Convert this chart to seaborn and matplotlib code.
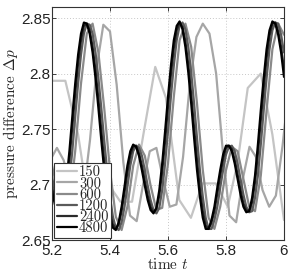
import numpy as np
import pandas as pd
import matplotlib
matplotlib.use("Agg")
import matplotlib.pyplot as plt
import seaborn as sns

# ---------------- data ----------------
resolutions = ["150", "300", "600", "1200", "2400", "4800"]
colors = ["#c4c4c4", "#a6a6a6", "#8a8a8a", "#5a5a5a", "#2a2a2a", "#000000"]

t_fine = np.linspace(5.2, 6.0, 81)
p4800 = [2.694, 2.682, 2.675, 2.675, 2.685, 2.704, 2.730, 2.761, 2.791, 2.817,
         2.836, 2.846, 2.845, 2.836, 2.819, 2.796, 2.769, 2.740, 2.713, 2.689,
         2.671, 2.661, 2.659, 2.666, 2.680, 2.698, 2.717, 2.730, 2.736, 2.734,
         2.726, 2.713, 2.699, 2.686, 2.677, 2.674, 2.679, 2.695, 2.719, 2.748,
         2.779, 2.807, 2.830, 2.843, 2.847, 2.840, 2.824, 2.801, 2.773, 2.742,
         2.713, 2.689, 2.670, 2.660, 2.660, 2.668, 2.680, 2.697, 2.713, 2.727,
         2.735, 2.735, 2.730, 2.719, 2.705, 2.691, 2.680, 2.675, 2.676, 2.688,
         2.708, 2.736, 2.767, 2.796, 2.822, 2.839, 2.847, 2.845, 2.835, 2.819,
         2.797]
p2400 = [2.698, 2.686, 2.677, 2.675, 2.682, 2.698, 2.722, 2.752, 2.782, 2.809,
         2.830, 2.843, 2.845, 2.839, 2.824, 2.803, 2.777, 2.749, 2.721, 2.696,
         2.676, 2.664, 2.660, 2.664, 2.676, 2.693, 2.711, 2.726, 2.734, 2.735,
         2.728, 2.717, 2.703, 2.690, 2.680, 2.675, 2.678, 2.690, 2.712, 2.739,
         2.770, 2.799, 2.823, 2.839, 2.846, 2.842, 2.829, 2.808, 2.781, 2.751,
         2.722, 2.696, 2.676, 2.663, 2.660, 2.666, 2.676, 2.692, 2.708, 2.723,
         2.733, 2.735, 2.732, 2.722, 2.709, 2.695, 2.683, 2.677, 2.676, 2.684,
         2.702, 2.728, 2.758, 2.787, 2.814, 2.834, 2.845, 2.846, 2.838, 2.824,
         2.804]
p1200 = [2.707, 2.694, 2.682, 2.675, 2.675, 2.685, 2.704, 2.730, 2.761, 2.791,
         2.817, 2.836, 2.845, 2.844, 2.836, 2.819, 2.796, 2.769, 2.740, 2.713,
         2.689, 2.671, 2.661, 2.659, 2.666, 2.680, 2.698, 2.717, 2.730, 2.735,
         2.733, 2.726, 2.713, 2.699, 2.686, 2.677, 2.674, 2.679, 2.695, 2.719,
         2.748, 2.779, 2.807, 2.830, 2.843, 2.846, 2.840, 2.824, 2.801, 2.773,
         2.742, 2.713, 2.689, 2.670, 2.660, 2.660, 2.668, 2.680, 2.697, 2.713,
         2.727, 2.734, 2.735, 2.730, 2.719, 2.705, 2.691, 2.680, 2.675, 2.676,
         2.688, 2.708, 2.736, 2.767, 2.796, 2.822, 2.839, 2.846, 2.845, 2.835,
         2.819]

t600 = np.linspace(5.2, 6.0, 41)
p600 = [2.717, 2.694, 2.675, 2.685, 2.730, 2.791, 2.836, 2.845, 2.819, 2.769,
        2.713, 2.671, 2.659, 2.680, 2.717, 2.736, 2.726, 2.699, 2.677, 2.679,
        2.719, 2.779, 2.830, 2.845, 2.824, 2.773, 2.713, 2.670, 2.660, 2.680,
        2.713, 2.734, 2.730, 2.705, 2.680, 2.676, 2.708, 2.767, 2.822, 2.845,
        2.835]

t300 = [5.194, 5.217, 5.240, 5.263, 5.286, 5.308, 5.331, 5.354, 5.377, 5.400,
        5.423, 5.446, 5.469, 5.492, 5.514, 5.537, 5.560, 5.583, 5.606, 5.629,
        5.652, 5.675, 5.698, 5.720, 5.743, 5.766, 5.789, 5.812, 5.835, 5.858,
        5.881, 5.903, 5.926, 5.949, 5.972, 5.995, 6.018]
p300 = [2.722, 2.733, 2.722, 2.700, 2.680, 2.690, 2.740, 2.805, 2.844, 2.838,
        2.790, 2.720, 2.672, 2.667, 2.700, 2.730, 2.733, 2.705, 2.680, 2.682,
        2.725, 2.790, 2.833, 2.845, 2.836, 2.800, 2.730, 2.672, 2.666, 2.705,
        2.734, 2.725, 2.695, 2.680, 2.690, 2.735, 2.790]

t150 = [5.200, 5.246, 5.290, 5.335, 5.390, 5.436, 5.476, 5.515, 5.556, 5.593,
        5.639, 5.679, 5.719, 5.765, 5.806, 5.840, 5.875, 5.920, 5.960, 6.000]
p150 = [2.7935, 2.7935, 2.745, 2.668, 2.702, 2.6845, 2.6845, 2.745, 2.806, 2.778,
        2.686, 2.670, 2.701, 2.701, 2.680, 2.720, 2.787, 2.800, 2.745, 2.668]

series = {
    "150": (t150, p150), "300": (t300, p300), "600": (t600, p600),
    "1200": (t_fine, p1200), "2400": (t_fine, p2400), "4800": (t_fine, p4800),
}
frames = [pd.DataFrame({"t": np.asarray(t, float), "p": np.asarray(p, float), "N": n})
          for n, (t, p) in series.items()]
df = pd.concat(frames, ignore_index=True)

# ---------------- style ----------------
sns.set_style("ticks")
plt.rcParams["font.family"] = ["Liberation Sans", "DejaVu Sans"]
plt.rcParams["mathtext.fontset"] = "cm"
plt.rcParams["axes.unicode_minus"] = False

fig = plt.figure(figsize=(2.91, 2.73), dpi=100)
ax = fig.add_axes([52 / 291, 33 / 273, 232 / 291, 233 / 273])

sns.lineplot(data=df, x="t", y="p", hue="N", hue_order=resolutions,
             palette=dict(zip(resolutions, colors)), estimator=None, sort=True,
             linewidth=1.6, ax=ax, legend=False)

ax.set_xlim(5.2, 6.0)
ax.set_ylim(2.65, 2.86)
ax.set_xticks([5.2, 5.4, 5.6, 5.8, 6.0])
ax.set_xticklabels(["5.2", "5.4", "5.6", "5.8", "6"])
ax.set_yticks([2.65, 2.7, 2.75, 2.8, 2.85])
ax.set_yticklabels(["2.65", "2.7", "2.75", "2.8", "2.85"])
ax.tick_params(direction="in", top=True, right=True, length=3, width=0.6,
               labelsize=11, colors="#222222")
ax.tick_params(axis="y", pad=1)
ax.tick_params(axis="x", pad=3)
ax.grid(True, linestyle=(0, (1, 2)), color="#c8c8c8", linewidth=0.7)
for s in ax.spines.values():
    s.set_color("#333333")
    s.set_linewidth(0.8)

ax.set_xlabel("time $t$", family="cmr10", fontsize=11, labelpad=-1)
ax.set_ylabel("pressure difference $\\Delta p$", family="cmr10", fontsize=11,
              labelpad=1)

handles = [plt.Line2D([], [], color=c, linewidth=1.6) for c in colors]
leg = ax.legend(handles, resolutions, loc="lower left", bbox_to_anchor=(0, 0),
                borderaxespad=0.15, frameon=True, fancybox=False,
                prop={"family": "cmr10", "size": 10.5}, labelspacing=-0.18,
                handlelength=1.35, handletextpad=0.15, borderpad=0.2)
leg.get_frame().set_edgecolor("#333333")
leg.get_frame().set_linewidth(0.8)
leg.get_frame().set_alpha(1)

fig.savefig("out.png", dpi=100)
